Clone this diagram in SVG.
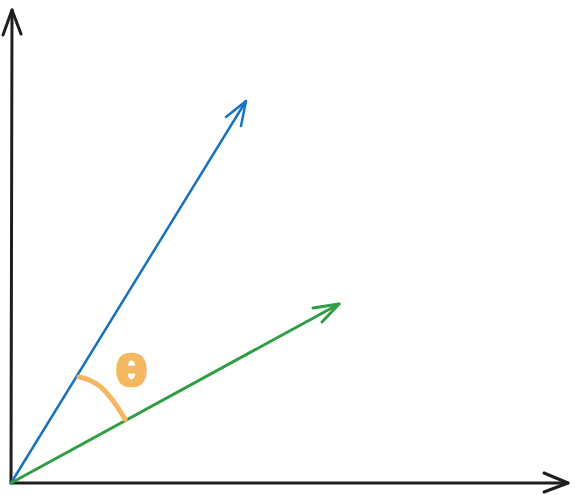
<svg xmlns="http://www.w3.org/2000/svg" width="579" height="495" viewBox="0 0 579 495">
<style>
.ln{fill:none;stroke-linecap:round;stroke-linejoin:round}
.ax{stroke:#1e1e1e;stroke-width:3}
.bl{stroke:#1971c2;stroke-width:2.5}
.gr{stroke:#2f9e44;stroke-width:3}
.arc{stroke:#f5b862;stroke-width:5}
.lbl{font-family:"DejaVu Sans",sans-serif;font-weight:bold;font-size:40px;fill:#f5b862;stroke:#f5b862;stroke-width:2.5;stroke-linejoin:round}
</style>
<rect width="579" height="495" fill="#ffffff"/>
<g id="connectors">
<g id="y-axis">
<path class="ln ax" d="M11,483 L12,10"/>
<path class="ln ax" d="M3,35 L12,10 L21,34"/>
</g>
<g id="x-axis">
<path class="ln ax" d="M11,483 L568,483"/>
<path class="ln ax" d="M544,473 L568,483 L544,492"/>
</g>
<g id="blue-vector">
<path class="ln bl" d="M11,483 L246,101"/>
<path class="ln bl" d="M226,117 L246,101 L241,126"/>
</g>
<g id="green-vector">
<path class="ln gr" d="M11,483 L339,304"/>
<path class="ln gr" d="M313,308 L339,304 L322,322"/>
</g>
</g>
<g id="angle">
<path class="ln arc" d="M79,377 C95,380 106,387 125,419"/>
<text class="lbl" x="131.5" y="385" text-anchor="middle" transform="translate(131.5 385) scale(1.15 1) translate(-131.5 -385)">θ</text>
</g>
</svg>
